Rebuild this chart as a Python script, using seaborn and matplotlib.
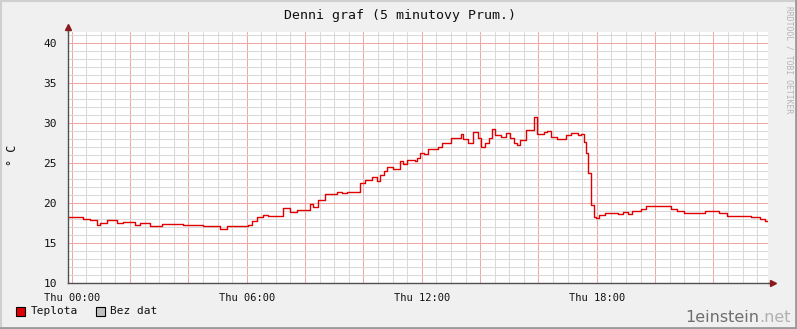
import matplotlib
matplotlib.use("Agg")
import matplotlib.pyplot as plt
from matplotlib.ticker import MultipleLocator, FuncFormatter
from matplotlib.patches import Rectangle
from matplotlib.lines import Line2D
import seaborn as sns
import pandas as pd

# ---- data (hours since Thu 00:00, degrees C) ----
hours = [-0.14, 0.00, 0.39, 0.63, 0.86, 0.97, 1.21, 1.55, 1.76, 2.17, 2.34, 2.68,
         3.10, 3.82, 4.50, 5.08, 5.32, 6.04, 6.18, 6.35, 6.56, 6.73, 7.24, 7.48,
         7.72, 8.17, 8.27, 8.44, 8.68, 9.10, 9.27, 9.44, 9.88, 10.05, 10.30, 10.47,
         10.57, 10.71, 10.81, 11.02, 11.25, 11.36, 11.49, 11.77, 11.84, 11.94, 12.08,
         12.21, 12.56, 12.70, 13.00, 13.35, 13.41, 13.59, 13.76, 13.93, 14.03, 14.17,
         14.31, 14.41, 14.51, 14.72, 14.89, 15.03, 15.16, 15.26, 15.37, 15.57, 15.85,
         15.95, 16.19, 16.30, 16.43, 16.64, 16.95, 17.12, 17.36, 17.46, 17.56, 17.63,
         17.70, 17.80, 17.90, 17.97, 18.07, 18.28, 18.38, 18.73, 18.90, 19.07, 19.21,
         19.52, 19.69, 20.54, 20.75, 20.99, 21.71, 22.19, 22.47, 23.29, 23.60, 23.77,
         23.87]
temp = [18.2, 18.3, 18.0, 17.9, 17.3, 17.5, 17.9, 17.45, 17.6, 17.3, 17.45, 17.1,
        17.4, 17.2, 17.1, 16.75, 17.1, 17.3, 17.8, 18.3, 18.5, 18.4, 19.4, 18.9,
        19.1, 19.9, 19.5, 20.4, 21.1, 21.4, 21.2, 21.4, 22.5, 22.9, 23.2, 22.7,
        23.5, 24.0, 24.5, 24.3, 25.2, 24.9, 25.4, 25.2, 25.6, 26.3, 26.1,
        26.75, 27.0, 27.5, 28.1, 28.6, 28.0, 27.5, 28.9, 28.1, 27.0, 27.5,
        28.1, 29.25, 28.5, 28.3, 28.8, 28.1, 27.5, 27.25, 27.9, 29.1, 30.7,
        28.6, 28.9, 29.0, 28.3, 28.0, 28.5, 28.8, 28.5, 28.6, 27.6, 26.2,
        23.7, 19.75, 18.3, 18.1, 18.5, 18.8, 18.7, 18.6, 18.9, 18.6, 19.0,
        19.3, 19.6, 19.3, 19.0, 18.8, 19.0, 18.7, 18.4, 18.3, 18.0, 17.8,
        17.8]
tick_hours = [0, 6, 12, 18]
tick_labels = ["Thu 00:00", "Thu 06:00", "Thu 12:00", "Thu 18:00"]
legend_names = ["Teplota", "Bez dat"]
legend_colors = ["#e00000", "#c0c0c0"]

sns.set_theme(style="white")
plt.rcParams["font.family"] = ["DejaVu Sans Mono", "DejaVu Sans"]

W, H = 797, 329
fig = plt.figure(figsize=(W / 100, H / 100), dpi=100)
fig.patch.set_facecolor("#f0f0f0")

def fx(px):
    return px / W

def fy(py):
    return 1 - py / H

ax = fig.add_axes([fx(68), fy(283), fx(700), 251 / H])
ax.set_facecolor("white")

df = pd.DataFrame({"hours": hours, "temp": temp})
sns.lineplot(data=df, x="hours", y="temp", ax=ax, color="#e00000", lw=1.0,
             drawstyle="steps-post", estimator=None, sort=False, legend=False)

ax.set_xlim(-0.127, 23.87)
ax.set_ylim(10, 10 + 251 / 8)

ax.xaxis.set_major_locator(MultipleLocator(2))
ax.xaxis.set_minor_locator(MultipleLocator(0.5))
ax.yaxis.set_major_locator(MultipleLocator(5))
ax.yaxis.set_minor_locator(MultipleLocator(1))
lab = dict(zip(tick_hours, tick_labels))
ax.xaxis.set_major_formatter(FuncFormatter(lambda v, p: lab.get(int(round(v)), "") if abs(v - round(v)) < 1e-6 else ""))
ax.yaxis.set_major_formatter(FuncFormatter(lambda v, p: f"{int(v)}"))

ax.grid(which="minor", color="#d9d9d9", lw=0.75)
ax.grid(which="major", color="#f2a6a6", lw=0.75)
ax.set_axisbelow(True)

ax.tick_params(axis="x", which="major", direction="out", length=4, width=0.8,
               color="#c08080", labelsize=7.5, pad=3, labelcolor="#101010")
ax.tick_params(axis="y", which="major", direction="out", length=3, width=0.8,
               color="#404040", labelsize=8, pad=5, labelcolor="#101010")
ax.tick_params(which="minor", length=0)

for s in ["top", "right"]:
    ax.spines[s].set_visible(False)
for s in ["left", "bottom"]:
    ax.spines[s].set_color("#505050")
    ax.spines[s].set_linewidth(1.0)

ax.set_xlabel("")
ax.set_ylabel("")

# axis extensions and arrowheads
ax.plot([0, 0], [1.0, 1.015], transform=ax.transAxes, clip_on=False, color="#505050", lw=1)
ax.plot([1.0, 1.004], [0, 0], transform=ax.transAxes, clip_on=False, color="#505050", lw=1)
ax.plot([0], [1.02], marker="^", ms=4.5, color="#8b1a1a", transform=ax.transAxes, clip_on=False)
ax.plot([1.0065], [0], marker=">", ms=4.5, color="#8b1a1a", transform=ax.transAxes, clip_on=False)

# texts
fig.text(fx(400), fy(16), "Denni graf (5 minutovy Prum.)", ha="center", va="center",
         fontsize=9.5, color="#101010")
fig.text(fx(12), fy(155), "° C", rotation=90, ha="center", va="center", fontsize=8.5,
         color="#101010")
fig.text(fx(789), fy(60), "RRDTOOL / TOBI OETIKER", rotation=270, ha="center", va="center",
         fontsize=5.8, color="#b4b4b4")

# legend
lx = [16, 96]
tx = [31, 110]
for name, col, x0, t0 in zip(legend_names, legend_colors, lx, tx):
    fig.patches.append(Rectangle((fx(x0), fy(316)), 9 / W, 9 / H, transform=fig.transFigure,
                                 facecolor=col, edgecolor="#000000", lw=0.8))
    fig.text(fx(t0), fy(311.5), name, ha="left", va="center", fontsize=8, color="#101010")

# watermark
fig.text(fx(759), fy(322), "1einstein", ha="right", va="baseline", fontsize=11.5,
         family="DejaVu Sans", color="#6e6e6e")
fig.text(fx(759), fy(322), ".net", ha="left", va="baseline", fontsize=11.5,
         family="DejaVu Sans", color="#b0b0b0")

# border
fig.add_artist(Line2D([0, 1], [fy(1), fy(1)], transform=fig.transFigure, color="#cfcfcf", lw=1.5))
fig.add_artist(Line2D([fx(1), fx(1)], [0, 1], transform=fig.transFigure, color="#cfcfcf", lw=1.5))
fig.add_artist(Line2D([0, 1], [fy(328), fy(328)], transform=fig.transFigure, color="#9a9a9a", lw=2))
fig.add_artist(Line2D([fx(796), fx(796)], [0, 1], transform=fig.transFigure, color="#9a9a9a", lw=2))

fig.savefig("out.png", dpi=100, facecolor=fig.get_facecolor())
